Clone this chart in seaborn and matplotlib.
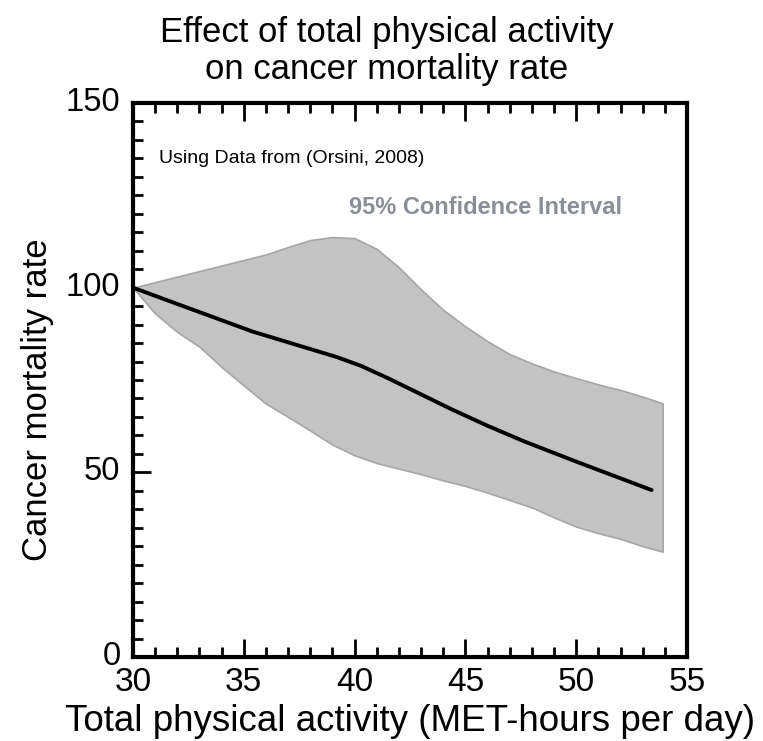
import matplotlib
matplotlib.use("Agg")
import matplotlib.pyplot as plt
from matplotlib.ticker import MultipleLocator
from matplotlib.transforms import ScaledTranslation
import pandas as pd
import seaborn as sns

# Fitted dose-response curve (relative cancer mortality, reference = 100)
activity = [30, 31.9, 35.4, 39.2, 40.3, 41.5, 44.4, 46.0, 47.6, 50.0, 53.4]
mortality = [100, 95.8, 88.1, 81.2, 78.8, 75.5, 67.0, 62.6, 58.5, 52.9, 45.2]

# 95% confidence band
band_activity = [30, 31, 32, 33, 34, 35, 36, 37, 38, 39, 40, 41, 42, 43, 44,
                 45, 46, 47, 48, 49, 50, 51, 52, 53, 53.9]
band_upper = [100, 101.5, 103, 104.5, 106, 107.5, 109, 111, 112.9, 113.7, 113.4,
              110.5, 105.5, 99.5, 94, 89.5, 85.5, 82, 79.5, 77.3, 75.5, 73.8,
              72.3, 70.5, 68.7]
band_lower = [100, 93, 88, 84, 78.5, 73.5, 68.6, 65, 61.3, 57.5, 54.6, 52.5, 51,
              49.5, 47.8, 46.3, 44.5, 42.5, 40.5, 37.8, 35.3, 33.5, 32, 30, 28.5]

curve = pd.DataFrame({"activity": activity, "mortality": mortality})

sns.set_theme(style="ticks")
plt.rcParams["font.family"] = ["Liberation Sans", "DejaVu Sans"]
plt.rcParams.update({
    "text.color": "black",
    "axes.labelcolor": "black",
    "xtick.color": "black",
    "ytick.color": "black",
    "axes.edgecolor": "black",
})

fig = plt.figure(figsize=(7.63, 7.41), dpi=100)
ax = fig.add_axes([0.1743, 0.1134, 0.7261, 0.7476])

ax.fill_between(band_activity, band_lower, band_upper, facecolor="#c3c3c3",
                edgecolor="#a6a6a6", linewidth=1.2, zorder=1)
sns.lineplot(data=curve, x="activity", y="mortality", ax=ax, color="black",
             linewidth=2.8, zorder=3)

ax.set_xlim(30, 55)
ax.set_ylim(0, 150)
ax.xaxis.set_major_locator(MultipleLocator(5))
ax.xaxis.set_minor_locator(MultipleLocator(1))
ax.yaxis.set_major_locator(MultipleLocator(50))
ax.yaxis.set_minor_locator(MultipleLocator(5))

for side in ax.spines.values():
    side.set_linewidth(3.0)
ax.tick_params(which="both", direction="in", top=True, right=False, width=2.0)
ax.tick_params(axis="x", which="major", length=13, pad=7, labelsize=24)
ax.tick_params(axis="x", which="minor", length=7)
ax.tick_params(axis="y", which="major", length=13, pad=9, labelsize=23.5)
ax.tick_params(axis="y", which="minor", length=7)

ax.set_xlabel("Total physical activity (MET-hours per day)", fontsize=26.5,
              va="baseline")
ax.xaxis.set_label_coords(0.5, -0.134)
ax.set_ylabel("Cancer mortality rate", fontsize=25, va="center")
ax.yaxis.set_label_coords(-0.172, 0.465)

ax.text(0.047, 0.9, "Using Data from (Orsini, 2008)", transform=ax.transAxes,
        fontsize=14, va="center", ha="left")
ax.text(0.39, 0.812, "95% Confidence Interval", transform=ax.transAxes,
        fontsize=17, fontweight="bold", color="#8a8e96", va="center",
        ha="left")

fig.text(0.507, 0.978, "Effect of total physical activity\non cancer mortality rate",
         ha="center", va="top", fontsize=25, linespacing=1.15)

# y tick labels sit a little above their ticks
fig.canvas.draw()
lift = ScaledTranslation(0, 4 / 100, fig.dpi_scale_trans)
for tick in ax.yaxis.get_major_ticks():
    tick.label1.set_transform(tick.label1.get_transform() + lift)

fig.savefig("out.png", dpi=100)
